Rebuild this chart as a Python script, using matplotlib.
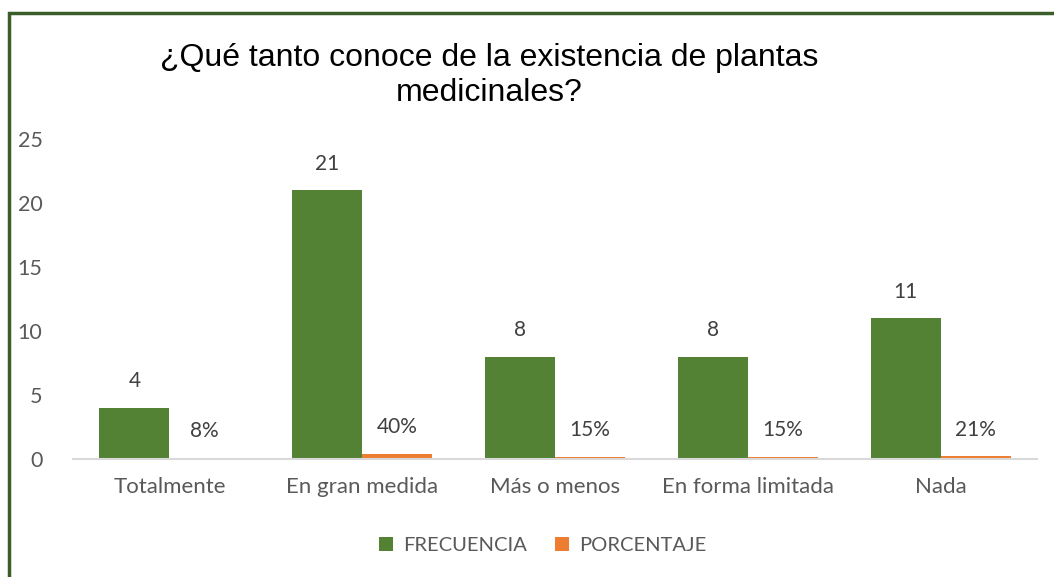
import matplotlib
matplotlib.use("Agg")
import matplotlib.pyplot as plt
from matplotlib.patches import Rectangle
import numpy as np

categories = ["Totalmente", "En gran medida", "Más o menos", "En forma limitada", "Nada"]
frecuencia = [4, 21, 8, 8, 11]
porcentaje = [0.08, 0.40, 0.15, 0.15, 0.21]
pct_labels = ["8%", "40%", "15%", "15%", "21%"]

GREEN = "#548235"
ORANGE = "#ed7d31"
TEXT = "#595959"
LABEL = "#404040"

fig = plt.figure(figsize=(10.54, 5.77), dpi=100)
ax = fig.add_axes([0.0693, 0.2045, 0.9146, 0.5546])

x = np.arange(len(categories))
w = 0.363
ax.bar(x - w / 2, frecuencia, w, color=GREEN, label="FRECUENCIA")
ax.bar(x + w / 2, porcentaje, w, color=ORANGE, label="PORCENTAJE")

for xi, v in zip(x, frecuencia):
    ax.annotate(str(v), (xi - w / 2, v), xytext=(0, 12), textcoords="offset points",
                ha="center", va="bottom", fontsize=15, color=LABEL, family="Lato")
for xi, v, s in zip(x, porcentaje, pct_labels):
    ax.annotate(s, (xi + w / 2, v), xytext=(0, 12), textcoords="offset points",
                ha="center", va="bottom", fontsize=15, color=LABEL, family="Lato")

ax.set_xlim(-0.5, len(categories) - 0.5)
ax.set_ylim(0, 25)
ax.set_yticks(range(0, 26, 5))
ax.set_xticks(x)
ax.set_xticklabels(categories)
for lab in ax.get_yticklabels():
    lab.set_family("Lato")
    lab.set_fontsize(15.5)
    lab.set_color(TEXT)
for lab in ax.get_xticklabels():
    lab.set_family("Lato")
    lab.set_fontsize(16)
    lab.set_color(TEXT)
ax.tick_params(axis="both", length=0)
ax.tick_params(axis="y", pad=22)
ax.tick_params(axis="x", pad=13)
for side in ["top", "right", "left"]:
    ax.spines[side].set_visible(False)
ax.spines["bottom"].set_color("#d9d9d9")
ax.spines["bottom"].set_linewidth(1.5)

fig.text(0.464, 0.925, "¿Qué tanto conoce de la existencia de plantas\nmedicinales?",
         ha="center", va="top", fontsize=23, family="Liberation Sans",
         color="black", linespacing=1.2)

leg = fig.legend(loc="center", bbox_to_anchor=(0.515, 0.055), ncol=2, frameon=False,
                 prop={"family": "Lato", "size": 14.5}, handlelength=0.7, handleheight=0.7,
                 columnspacing=1.4, handletextpad=0.5)
for t in leg.get_texts():
    t.set_color(TEXT)

# chart border (cropped on right and bottom)
fig.patches.append(Rectangle((9 / 1054, -0.1), 1.2, 1 - 13 / 577 + 0.1,
                             transform=fig.transFigure, fill=False,
                             edgecolor="#3b5e2b", linewidth=2.5))

fig.savefig("out.png", dpi=100)
